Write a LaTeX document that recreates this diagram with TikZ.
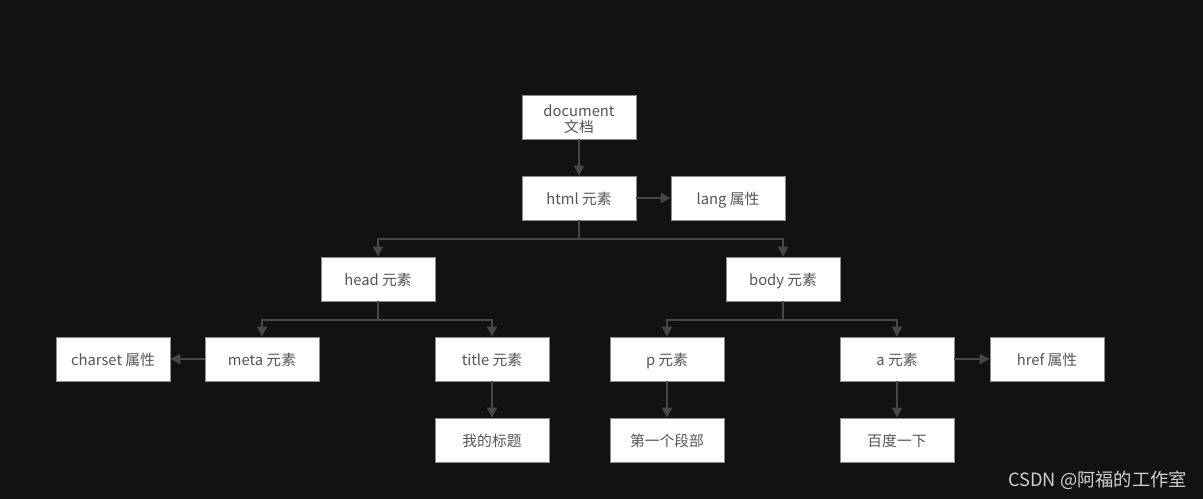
\documentclass[tikz,border=0pt]{standalone}
\usepackage{fontspec}
\setmainfont{Noto Sans CJK SC}
\usetikzlibrary{arrows.meta}
\definecolor{bgdark}{HTML}{121212}
\definecolor{linegray}{HTML}{474747}
\definecolor{boxborder}{HTML}{8C8C8C}
\definecolor{textgray}{HTML}{555555}
\definecolor{markgray}{HTML}{D0D0D0}

\begin{document}
\begin{tikzpicture}[x=0.025cm,y=-0.025cm,
    plainbox/.style={draw=boxborder,fill=white,line width=0.6pt,minimum width=2.85cm,
        minimum height=1.1cm,inner sep=1pt,text=textgray,align=center,
        font=\fontsize{10.5}{12.8}\selectfont},
    box/.style={plainbox,text height=0.9em,text depth=0.02em},
    link/.style={-{Triangle[length=7pt,width=7pt]},draw=linegray,line width=1.4pt}]
    % Background
    \fill[bgdark] (0,0) rectangle (1203,499);

    % Top levels
    \node[plainbox] (doc) at (579,117) {\rule{0pt}{1.1em}document\\[-1pt]文档};
    \node[box] (html) at (579,198) {html 元素};
    \node[box] (lang) at (728,198) {lang 属性};
    \node[box] (head) at (378,279) {head 元素};
    \node[box] (body) at (783,279) {body 元素};

    % Children of head and body
    \node[box] (charset) at (113,359) {charset 属性};
    \node[box] (meta) at (262,359) {meta 元素};
    \node[box] (title) at (492,359) {title 元素};
    \node[box] (para) at (667,359) {p 元素};
    \node[box] (anchor) at (897,359) {a 元素};
    \node[box] (href) at (1047,359) {href 属性};

    % Leaves
    \node[box] (mytitle) at (492,440) {我的标题};
    \node[box] (first) at (667,440) {第一个段部};
    \node[box] (baidu) at (897,440) {百度一下};

    % Arrows
    \draw[link] (doc) -- (html);
    \draw[link] (html) -- (lang);
    \draw[link] (html.south) -- ++(0,19) -| (head.north);
    \draw[link] (html.south) -- ++(0,19) -| (body.north);
    \draw[link] (head.south) -- ++(0,19) -| (meta.north);
    \draw[link] (head.south) -- ++(0,19) -| (title.north);
    \draw[link] (body.south) -- ++(0,19) -| (para.north);
    \draw[link] (body.south) -- ++(0,19) -| (anchor.north);
    \draw[link] (meta) -- (charset);
    \draw[link] (anchor) -- (href);
    \draw[link] (title) -- (mytitle);
    \draw[link] (para) -- (first);
    \draw[link] (anchor) -- (baidu);

    % Watermark
    \node[text=markgray,anchor=east,font=\fontsize{13}{15}\selectfont] (mark) at (1192,480) {CSDN @阿福的工作室};
\end{tikzpicture}
\end{document}
